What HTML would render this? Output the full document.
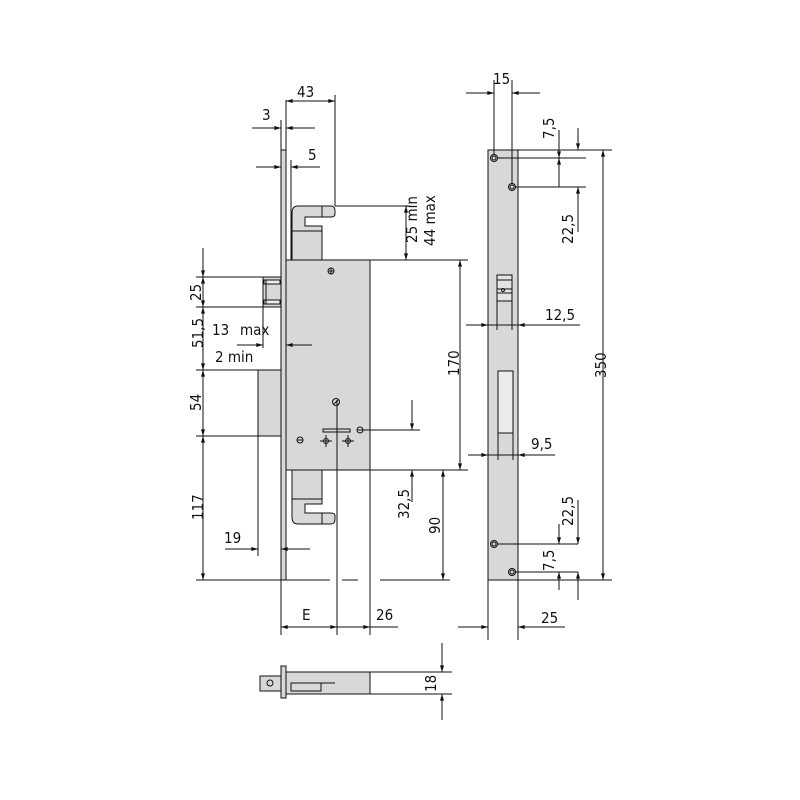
<!DOCTYPE html>
<html><head><meta charset="utf-8"><style>body{margin:0;background:#fff}svg{display:block}text{font-family:"DejaVu Sans Condensed","Liberation Sans Narrow","Liberation Sans",sans-serif;font-size:15px;fill:#111}</style></head><body>
<svg width="800" height="800" viewBox="0 0 800 800" xmlns="http://www.w3.org/2000/svg">
<defs><marker id="a" viewBox="0 0 10 6" refX="10" refY="3" markerWidth="10" markerHeight="4" orient="auto-start-reverse" markerUnits="userSpaceOnUse"><path d="M0,0L10,3L0,6z" fill="#111"/></marker></defs>
<g stroke="#111" stroke-width="1" fill="#d8d8d8">
<rect x="286" y="260" width="84" height="210"/>
<rect x="281" y="150" width="5" height="430"/>
<rect x="292" y="231" width="30" height="29"/>
<path d="M292,231 V213 Q292,206 298,206 H331 Q335,206 335,211 V214 Q335,217 331,217 H305 V226 H322 V231 Z"/>
<line x1="322" y1="206" x2="322" y2="217"/>
<rect x="292" y="470" width="30" height="29"/>
<path d="M292,499 V517 Q292,524 298,524 H331 Q335,524 335,519 V516 Q335,513 331,513 H305 V504 H322 V499 Z"/>
<line x1="322" y1="513" x2="322" y2="524"/>
<rect x="263" y="277" width="18" height="30"/>
<rect x="264" y="280" width="16" height="4" fill="#eee"/>
<rect x="264" y="300" width="16" height="4" fill="#eee"/>
<line x1="266" y1="280" x2="266" y2="304"/>
<rect x="258" y="370" width="23" height="66"/>
<rect x="488" y="150" width="30" height="430"/>
<rect x="497" y="275" width="15" height="26" fill="#e4e4e4"/>
<line x1="497" y1="280" x2="512" y2="280"/><line x1="497" y1="289" x2="512" y2="289"/><line x1="497" y1="293" x2="512" y2="293"/>
<rect x="498" y="371" width="15" height="62" fill="#ececec"/>
<rect x="286" y="672" width="84" height="22"/>
<rect x="281" y="666" width="5" height="32"/>
<rect x="260" y="676" width="21" height="15"/>
<rect x="291" y="683" width="30" height="8"/>
</g>
<g fill="none" stroke="#111" stroke-width="1">
<circle cx="331" cy="271" r="3"/><line x1="328" y1="271" x2="334" y2="271"/><line x1="331" y1="268" x2="331" y2="274"/>
<circle cx="336" cy="402" r="3.5"/><line x1="334" y1="404" x2="338" y2="400"/>
<circle cx="300" cy="440" r="3"/><line x1="297" y1="440" x2="303" y2="440"/>
<circle cx="360" cy="430" r="3"/><line x1="357" y1="430" x2="363" y2="430"/>
<circle cx="326" cy="441" r="2.5"/><line x1="320" y1="441" x2="332" y2="441"/><line x1="326" y1="435" x2="326" y2="447"/>
<circle cx="348" cy="441" r="2.5"/><line x1="342" y1="441" x2="354" y2="441"/><line x1="348" y1="435" x2="348" y2="447"/>
<rect x="323" y="429" width="27" height="3"/>
<circle cx="494" cy="158" r="3.5"/><circle cx="494" cy="158" r="2"/>
<circle cx="512" cy="187" r="3.5"/><circle cx="512" cy="187" r="2"/>
<circle cx="494" cy="544" r="3.5"/><circle cx="494" cy="544" r="2"/>
<circle cx="512" cy="572" r="3.5"/><circle cx="512" cy="572" r="2"/>
<circle cx="503" cy="290" r="1.5"/>
<circle cx="270" cy="683" r="3"/>
<line x1="291" y1="683" x2="335" y2="683"/>
<line x1="286" y1="100" x2="286" y2="150"/>
<line x1="281" y1="120" x2="281" y2="150"/>
<line x1="291" y1="160" x2="291" y2="260"/>
<line x1="335" y1="95" x2="335" y2="206"/>
<line x1="335" y1="206" x2="410" y2="206"/>
<line x1="370" y1="260" x2="468" y2="260"/>
<line x1="370" y1="470" x2="468" y2="470"/>
<line x1="196" y1="277" x2="263" y2="277"/>
<line x1="196" y1="307" x2="263" y2="307"/>
<line x1="196" y1="370" x2="258" y2="370"/>
<line x1="196" y1="436" x2="258" y2="436"/>
<line x1="196" y1="580" x2="330" y2="580"/>
<line x1="342" y1="580" x2="358" y2="580"/>
<line x1="380" y1="580" x2="450" y2="580"/>
<line x1="258" y1="436" x2="258" y2="556"/>
<line x1="263" y1="307" x2="263" y2="348"/>
<line x1="337" y1="400" x2="337" y2="635"/>
<line x1="370" y1="470" x2="370" y2="635"/>
<line x1="281" y1="580" x2="281" y2="635"/>
<line x1="360" y1="430" x2="420" y2="430"/>
<line x1="286" y1="101" x2="335" y2="101" marker-start="url(#a)" marker-end="url(#a)"/>
<line x1="252" y1="128" x2="281" y2="128" marker-end="url(#a)"/><line x1="286" y1="128" x2="315" y2="128" marker-start="url(#a)"/>
<line x1="256" y1="167" x2="281" y2="167" marker-end="url(#a)"/><line x1="291" y1="167" x2="320" y2="167" marker-start="url(#a)"/>
<line x1="406" y1="206" x2="406" y2="260" marker-start="url(#a)" marker-end="url(#a)"/>
<line x1="203" y1="248" x2="203" y2="277" marker-end="url(#a)"/>
<line x1="203" y1="277" x2="203" y2="307" marker-start="url(#a)" marker-end="url(#a)"/>
<line x1="203" y1="307" x2="203" y2="370" marker-start="url(#a)" marker-end="url(#a)"/>
<line x1="203" y1="370" x2="203" y2="436" marker-start="url(#a)" marker-end="url(#a)"/>
<line x1="203" y1="436" x2="203" y2="580" marker-start="url(#a)" marker-end="url(#a)"/>
<line x1="237" y1="345" x2="263" y2="345" marker-end="url(#a)"/><line x1="286" y1="345" x2="312" y2="345" marker-start="url(#a)"/>
<line x1="225" y1="549" x2="258" y2="549" marker-end="url(#a)"/><line x1="281" y1="549" x2="310" y2="549" marker-start="url(#a)"/>
<line x1="460" y1="260" x2="460" y2="470" marker-start="url(#a)" marker-end="url(#a)"/>
<line x1="412" y1="400" x2="412" y2="430" marker-end="url(#a)"/>
<line x1="412" y1="470" x2="412" y2="502" marker-start="url(#a)"/>
<line x1="443" y1="470" x2="443" y2="580" marker-start="url(#a)" marker-end="url(#a)"/>
<line x1="281" y1="627" x2="337" y2="627" marker-start="url(#a)" marker-end="url(#a)"/>
<line x1="337" y1="627" x2="370" y2="627" marker-end="url(#a)"/><line x1="370" y1="627" x2="398" y2="627"/>
<line x1="494" y1="80" x2="494" y2="155"/>
<line x1="512" y1="80" x2="512" y2="184"/>
<line x1="466" y1="93" x2="494" y2="93" marker-end="url(#a)"/><line x1="512" y1="93" x2="540" y2="93" marker-start="url(#a)"/>
<line x1="518" y1="150" x2="612" y2="150"/>
<line x1="497" y1="158" x2="586" y2="158"/>
<line x1="515" y1="187" x2="586" y2="187"/>
<line x1="559" y1="130" x2="559" y2="158" marker-end="url(#a)"/><line x1="559" y1="158" x2="559" y2="187" marker-start="url(#a)"/>
<line x1="578" y1="128" x2="578" y2="150" marker-end="url(#a)"/><line x1="578" y1="187" x2="578" y2="232" marker-start="url(#a)"/>
<line x1="603" y1="150" x2="603" y2="580" marker-start="url(#a)" marker-end="url(#a)"/>
<line x1="518" y1="580" x2="612" y2="580"/>
<line x1="497" y1="544" x2="578" y2="544"/>
<line x1="515" y1="572" x2="578" y2="572"/>
<line x1="578" y1="500" x2="578" y2="544" marker-end="url(#a)"/><line x1="578" y1="572" x2="578" y2="600" marker-start="url(#a)"/>
<line x1="559" y1="524" x2="559" y2="544" marker-end="url(#a)"/><line x1="559" y1="572" x2="559" y2="590" marker-start="url(#a)"/>
<line x1="497" y1="301" x2="497" y2="330"/><line x1="512" y1="301" x2="512" y2="330"/>
<line x1="466" y1="325" x2="488" y2="325" marker-end="url(#a)"/><line x1="488" y1="325" x2="518" y2="325"/><line x1="518" y1="325" x2="580" y2="325" marker-start="url(#a)"/>
<line x1="498" y1="433" x2="498" y2="460"/><line x1="513" y1="433" x2="513" y2="460"/>
<line x1="468" y1="455" x2="488" y2="455" marker-end="url(#a)"/><line x1="488" y1="455" x2="518" y2="455"/><line x1="518" y1="455" x2="555" y2="455" marker-start="url(#a)"/>
<line x1="488" y1="580" x2="488" y2="640"/><line x1="518" y1="580" x2="518" y2="640"/>
<line x1="458" y1="627" x2="488" y2="627" marker-end="url(#a)"/><line x1="518" y1="627" x2="565" y2="627" marker-start="url(#a)"/>
<line x1="370" y1="672" x2="452" y2="672"/><line x1="370" y1="694" x2="452" y2="694"/>
<line x1="442" y1="643" x2="442" y2="672" marker-end="url(#a)"/><line x1="442" y1="694" x2="442" y2="720" marker-start="url(#a)"/>
</g>
<g>
<text x="297" y="97">43</text>
<text x="262" y="120">3</text>
<text x="308" y="160">5</text>
<text x="186" y="300" transform="rotate(-90 194 293)">25</text>
<text x="184" y="347" transform="rotate(-90 194 338)">51,5</text>
<text x="186" y="410" transform="rotate(-90 194 403)">54</text>
<text x="184" y="519" transform="rotate(-90 194 510)">117</text>
<text x="212" y="335">13</text><text x="240" y="335" font-size="13">max</text>
<text x="215" y="362">2 min</text>
<text x="224" y="543">19</text>
<text x="388" y="254" transform="rotate(-90 397 234)">25 min</text>
<text x="416" y="249" font-size="13" transform="rotate(-90 424 238)">44 max</text>
<text x="440" y="371" transform="rotate(-90 452 364)">170</text>
<text x="389" y="513" transform="rotate(-90 402 506)">32,5</text>
<text x="423" y="531" transform="rotate(-90 433 524)">90</text>
<text x="302" y="620">E</text>
<text x="376" y="620">26</text>
<text x="493" y="84">15</text>
<text x="534" y="137" transform="rotate(-90 545 128)">7,5</text>
<text x="550" y="239" transform="rotate(-90 564 230)">22,5</text>
<text x="545" y="320">12,5</text>
<text x="581" y="371" transform="rotate(-90 597 362)">350</text>
<text x="531" y="449">9,5</text>
<text x="550" y="521" transform="rotate(-90 564 512)">22,5</text>
<text x="534" y="569" transform="rotate(-90 545 560)">7,5</text>
<text x="541" y="623">25</text>
<text x="421" y="689" transform="rotate(-90 430 683)">18</text>
</g>
</svg>
</body></html>
